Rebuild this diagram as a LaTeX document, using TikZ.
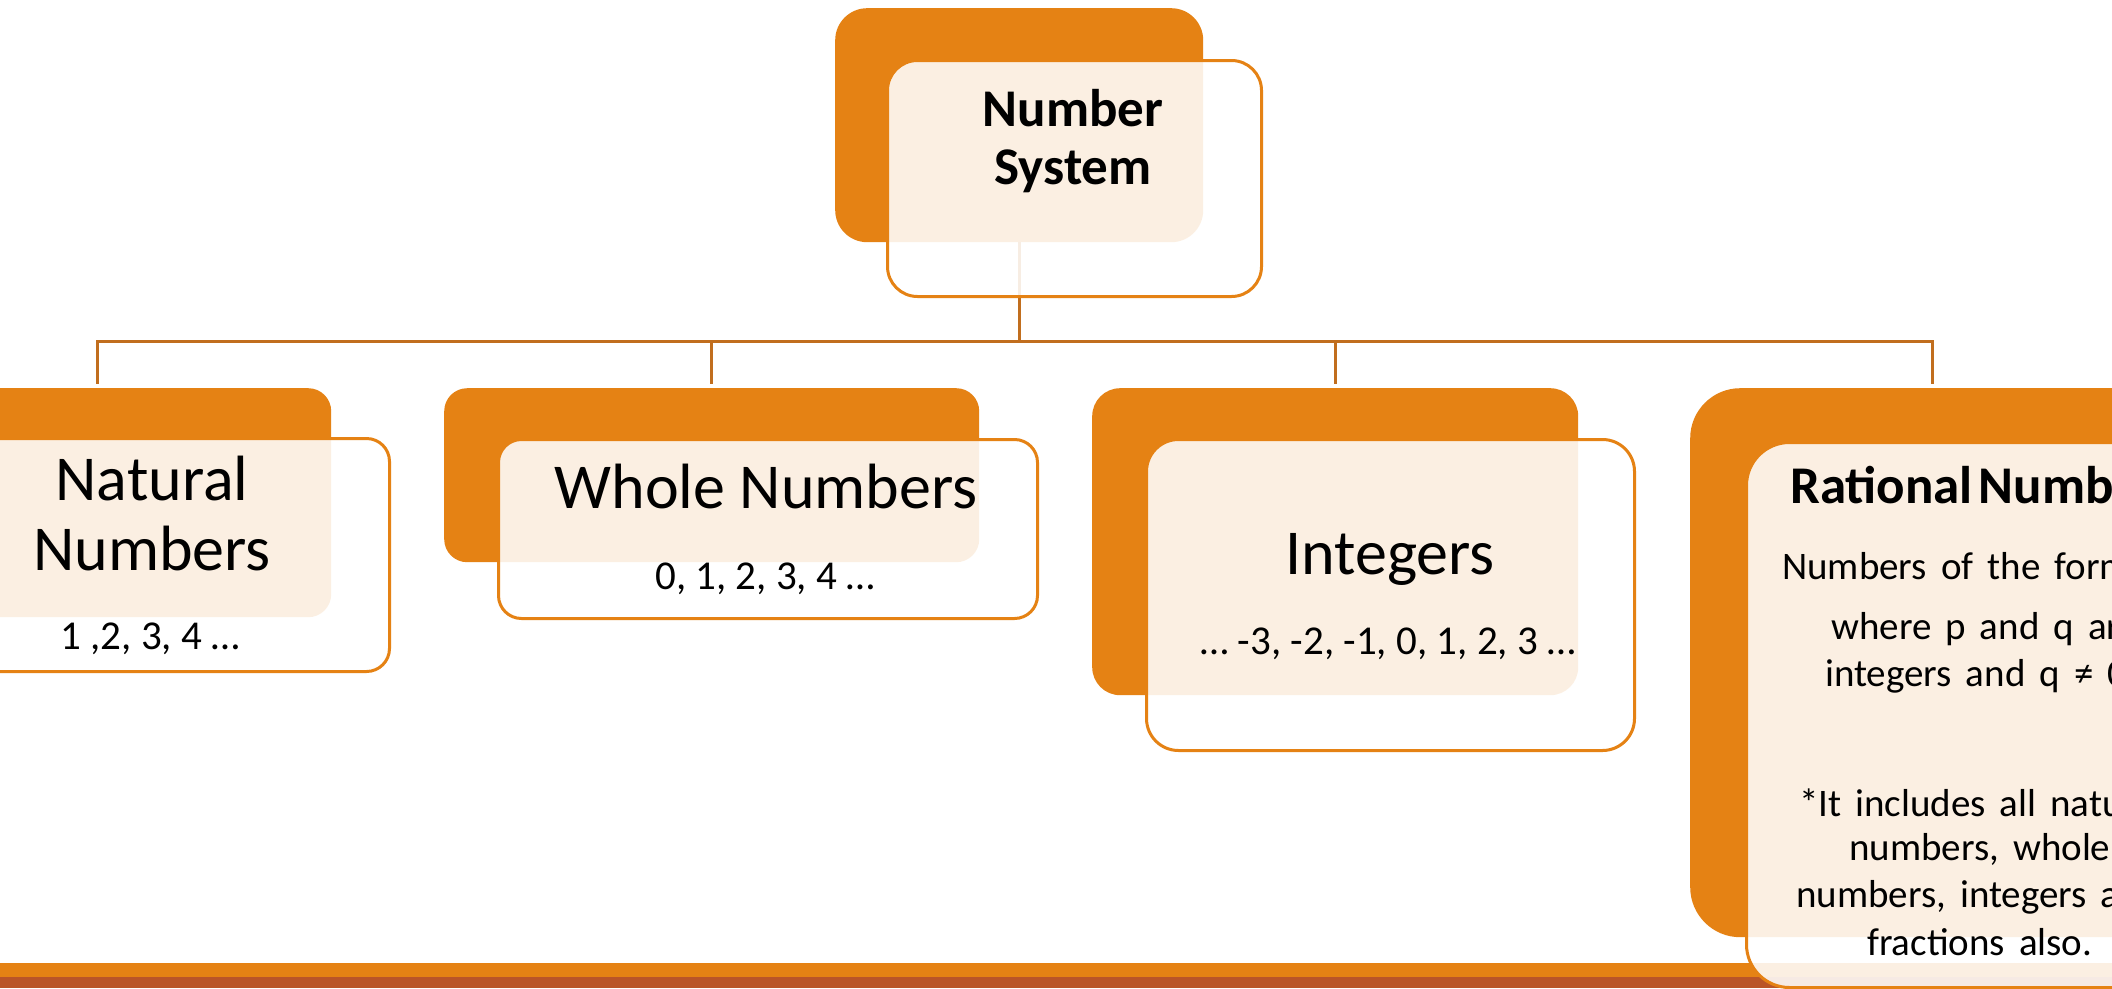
\documentclass[tikz,border=0pt]{standalone}
\usepackage{fontspec}
\setmainfont{Carlito}
\definecolor{org}{RGB}{229,130,20}
\definecolor{connc}{RGB}{193,110,30}
\definecolor{brn}{RGB}{186,85,40}
\newcommand{\rbodyfont}{\fontsize{39}{46}\selectfont\spaceskip 14pt plus 2pt minus 1pt\relax}
\newcommand{\rboldfont}{\bfseries\fontsize{53}{58}\selectfont\spaceskip 6pt\relax}
\begin{document}
\begin{tikzpicture}[x=1pt,y=-1pt,
  back/.style={rectangle, fill=org, inner sep=0pt, anchor=north west},
  front/.style={rectangle, draw=org, line width=3pt, fill=white, fill opacity=0.88, inner sep=0pt, anchor=north west},
  conn/.style={draw=connc, line width=3pt},
  title/.style={anchor=base, inner sep=0pt, font=\fontsize{64}{70}\selectfont},
  subt/.style={anchor=base, inner sep=0pt, font=\fontsize{41}{48}\selectfont},
  btitle/.style={anchor=base, inner sep=0pt, font=\bfseries\fontsize{53}{58}\selectfont},
  body/.style={anchor=base west, inner sep=0pt, font=\rbodyfont},
]
\useasboundingbox (0,0) rectangle (2112,988);
\fill[white] (0,0) rectangle (2112,988);

% bottom bands
\fill[org] (0,963) rectangle (2112,977);
\fill[brn] (0,977) rectangle (2112,988);

% back boxes
\node[back, minimum width=368pt, minimum height=234pt, rounded corners=32pt] (ns-b) at (835,8) {};
\node[back, minimum width=468pt, minimum height=229pt, rounded corners=23pt] (nat-b) at (-137,388) {};
\node[back, minimum width=535pt, minimum height=174pt, rounded corners=23pt] (wh-b) at (444,388) {};
\node[back, minimum width=486pt, minimum height=307pt, rounded corners=28pt] (int-b) at (1092,388) {};
\node[back, minimum width=484pt, minimum height=549pt, rounded corners=50pt] (rat-b) at (1690,388) {};

% connectors
\coordinate (hub) at (ns-b.south |- 0,341);
\draw[conn] (ns-b.south) -- (hub);
\draw[conn] (hub) -| ([yshift=4pt]nat-b.north);
\draw[conn] (hub) -| ([yshift=4pt]wh-b.north);
\draw[conn] (hub) -| ([yshift=4pt]int-b.north);
\draw[conn] (hub) -| ([yshift=4pt]rat-b.north);

% front boxes
\node[front, minimum width=374pt, minimum height=236pt, rounded corners=30pt] (ns-f) at (886,59) {};
\node[front, minimum width=476pt, minimum height=233pt, rounded corners=23pt] (nat-f) at (-88,437) {};
\node[front, minimum width=539pt, minimum height=179pt, rounded corners=23pt] (wh-f) at (497,438) {};
\node[front, minimum width=488pt, minimum height=311pt, rounded corners=32pt] (int-f) at (1145,438) {};
\node[front, minimum width=488pt, minimum height=545pt, rounded corners=43pt] (rat-f) at (1745,441) {};

% texts
\node[btitle] (ns-t1) at (1073,126) {Number};
\node[btitle] (ns-t2) at (1073,184) {System};

\node[title] (nat-t1) at (152,500) {Natural};
\node[title] (nat-t2) at (152,570) {Numbers};
\node[subt] (nat-s) at (150,649) {1 ,2, 3, 4 …};

\node[title] (wh-t) at (766,508) {Whole Numbers};
\node[subt] (wh-s) at (765,589) {0, 1, 2, 3, 4 …};

\node[title] (int-t) at (1390,574) {Integers};
\node[subt] (int-s) at (1388,654) {… -3, -2, -1, 0, 1, 2, 3 …};

\node[body, font=\rboldfont] (rat-t) at (1790,503) {Rational Numbers};
\node[body] (rat-l1) at (1782,579) {Numbers of the form};
\node[body] (rat-l2) at (1831,639) {where p and q are};
\node[body] (rat-l3) at (1825,686) {integers and q ≠ 0};
\node[body] (rat-l4) at (1799,816) {*It includes all natural};
\node[body] (rat-l5) at (1849,860) {numbers, whole};
\node[body] (rat-l6) at (1796,907) {numbers, integers and};
\node[body] (rat-l7) at (1867,955) {fractions also.};
\end{tikzpicture}
\end{document}
